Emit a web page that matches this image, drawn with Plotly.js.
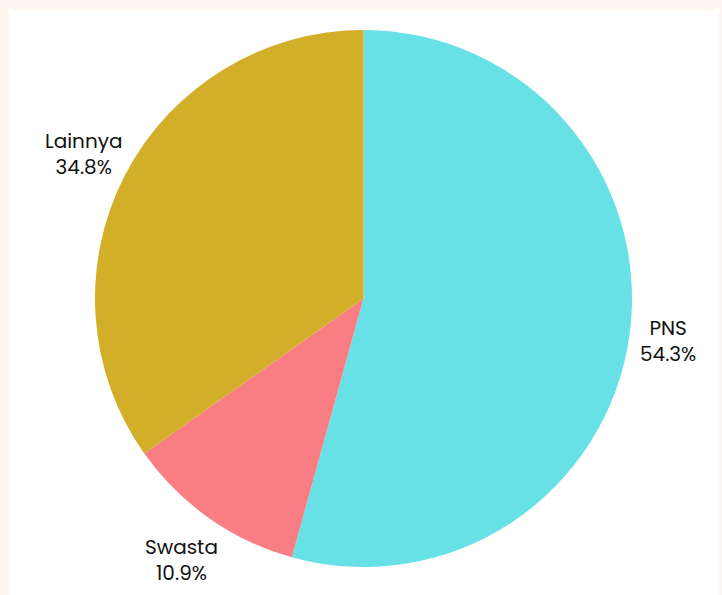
<!DOCTYPE html>
<html>
<head>
<meta charset="utf-8">
<script src="https://cdn.plot.ly/plotly-3.0.1.min.js"></script>
<style>
  html, body { margin: 0; padding: 0; background: #fdf8f1; width: 722px; height: 595px; overflow: hidden; }
  #card { position: absolute; left: 10px; top: 10px; width: 708px; height: 600px; background: #ffffff; }
  #chart { position: absolute; left: 0; top: 0; width: 722px; height: 595px; }
</style>
</head>
<body>
<div id="card"></div>
<div id="chart"></div>
<script>
const categories = ["PNS", "Swasta", "Lainnya"];
const values = [54.3, 10.9, 34.8];
const colors = ["#67e1e6", "#f97e84", "#d3ae29"];

// label anchor positions (pixels in the 722x595 canvas)
const labelPos = [[668, 341], [181, 560], [83, 154]];

const W = 722, H = 595;
const total = values.reduce((a, b) => a + b, 0);
const annotations = categories.map((c, i) => ({
  text: c + "<br>" + (100 * values[i] / total).toFixed(1) + "%",
  x: labelPos[i][0] / W, y: 1 - labelPos[i][1] / H,
  xref: "paper", yref: "paper",
  xanchor: "center", yanchor: "middle",
  showarrow: false, align: "center",
  font: { family: "Poppins, 'Noto Sans', sans-serif", size: 20, color: "#111111" }
}));

Plotly.newPlot("chart", [{
  type: "pie",
  labels: categories,
  values: values,
  sort: false,
  direction: "clockwise",
  rotation: 0,
  marker: { colors: colors, line: { width: 0 } },
  textinfo: "none",
  domain: { x: [95/722, 632/722], y: [27/595, 566/595] },
  hoverinfo: "none"
}], {
  width: W, height: H,
  margin: { l: 0, r: 0, t: 0, b: 0 },
  paper_bgcolor: "rgba(0,0,0,0)",
  plot_bgcolor: "rgba(0,0,0,0)",
  showlegend: false,
  annotations: annotations,
  font: { family: "Poppins, 'Noto Sans', sans-serif" }
}, { displayModeBar: false, staticPlot: true });
</script>
</body>
</html>
